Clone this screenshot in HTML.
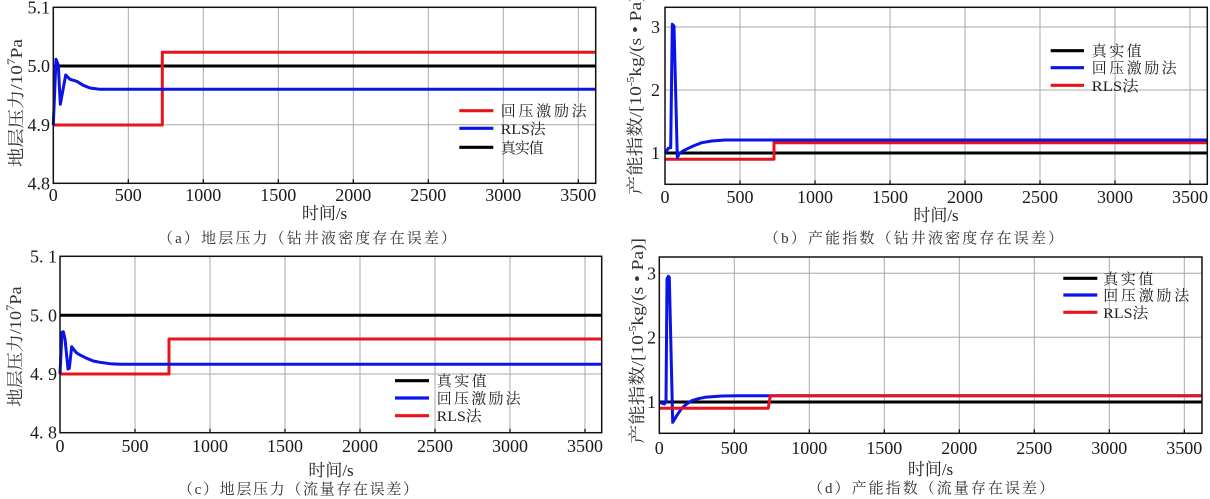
<!DOCTYPE html>
<html><head><meta charset="utf-8"><style>
html,body{margin:0;padding:0;background:#fff;}
svg{display:block;}
text{font-family:"Liberation Serif","Noto Serif CJK SC",serif;}
</style></head><body>
<svg width="1210" height="499" viewBox="0 0 1210 499" xmlns="http://www.w3.org/2000/svg">
<rect width="1210" height="499" fill="#fff"/>

<!-- ============ PANEL A ============ -->
<g stroke="#a8a8a8" stroke-width="1" fill="none">
<path d="M128.3 7.3V183.3M203.3 7.3V183.3M278.3 7.3V183.3M353.3 7.3V183.3M428.3 7.3V183.3M503.3 7.3V183.3M578.3 7.3V183.3"/>
<path d="M53.3 124.7H595.7M53.3 66H595.7"/>
</g>
<g stroke="#000" stroke-width="1.2">
<path d="M128.3 183.3v-4M203.3 183.3v-4M278.3 183.3v-4M353.3 183.3v-4M428.3 183.3v-4M503.3 183.3v-4M578.3 183.3v-4"/>
</g>
<g fill="none" stroke-width="3" stroke-linejoin="round">
<path stroke="#000" d="M53.3 66H595.7"/>
<path stroke="#e8141b" d="M53.3 125H162.3V52.3H595.7"/>
<path stroke="#0a14e6" d="M53.3 125L56 59.3L58.3 65L60.3 104.3L65.7 75L70 79.3L76.7 81.3L83.3 85.3L90 88L100 89.3H595.7"/>
</g>
<rect x="53.3" y="7.3" width="542.4" height="176" fill="none" stroke="#111" stroke-width="1.5"/>
<g font-size="18" fill="#1a1a1a" text-anchor="end">
<text x="50" y="13.5">5.1</text><text x="50" y="72">5.0</text><text x="50" y="131">4.9</text><text x="50" y="189.5">4.8</text>
</g>
<g font-size="18" fill="#1a1a1a" text-anchor="middle">
<text x="53.3" y="201">0</text><text x="128.3" y="201">500</text><text x="203.3" y="201">1000</text><text x="278.3" y="201">1500</text><text x="353.3" y="201">2000</text><text x="428.3" y="201">2500</text><text x="503.3" y="201">3000</text><text x="578.3" y="201">3500</text>
</g>
<text transform="translate(16,103) rotate(-90)" y="6" font-size="17" fill="#333" text-anchor="middle" textLength="128" lengthAdjust="spacingAndGlyphs">地层压力/10<tspan font-size="12" dy="-7">7</tspan><tspan dy="7">Pa</tspan></text>
<text x="324.5" y="219" font-size="17" fill="#222" text-anchor="middle">时间/s</text>
<text x="158" y="243" font-size="15" fill="#333" textLength="298" lengthAdjust="spacing">（a）地层压力（钻井液密度存在误差）</text>
<g stroke-width="3.2">
<path stroke="#e8141b" d="M459.3 110.7H493.3"/>
<path stroke="#0a14e6" d="M459.3 128.3H493.3"/>
<path stroke="#000" d="M459.3 147.3H493.3"/>
</g>
<g font-size="15" fill="#222">
<text x="500.7" y="116.2" textLength="86" lengthAdjust="spacing">回压激励法</text>
<text x="500.7" y="133.8" textLength="45" lengthAdjust="spacingAndGlyphs">RLS法</text>
<text x="500.7" y="152.8" textLength="43" lengthAdjust="spacing">真实值</text>
</g>

<!-- ============ PANEL B ============ -->
<g stroke="#a8a8a8" stroke-width="1" fill="none">
<path d="M740 7.3V184.3M815 7.3V184.3M890 7.3V184.3M965 7.3V184.3M1040 7.3V184.3M1115 7.3V184.3M1190 7.3V184.3"/>
<path d="M665 27H1207.3M665 90H1207.3M665 153H1207.3"/>
</g>
<g stroke="#000" stroke-width="1.2">
<path d="M740 184.3v-4M815 184.3v-4M890 184.3v-4M965 184.3v-4M1040 184.3v-4M1115 184.3v-4M1190 184.3v-4"/>
</g>
<g fill="none" stroke-width="3" stroke-linejoin="round">
<path stroke="#000" d="M665 153H1207.3"/>
<path stroke="#e8141b" d="M665 159.3H774V142.7H1207.3"/>
<path stroke="#0a14e6" d="M665 153L668.3 148.3L670.7 147.7L672.3 24.3L674 26L677.3 157.7L679 154L683.3 150.7L688.3 148.3L693.3 146L701.7 142.7L711.7 141L725 140H1207.3"/>
</g>
<rect x="665" y="7.3" width="542.3" height="177" fill="none" stroke="#111" stroke-width="1.5"/>
<g font-size="18" fill="#1a1a1a" text-anchor="end">
<text x="660" y="33">3</text><text x="660" y="96">2</text><text x="660" y="159">1</text>
</g>
<g font-size="18" fill="#1a1a1a" text-anchor="middle">
<text x="665" y="203">0</text><text x="740" y="203">500</text><text x="815" y="203">1000</text><text x="890" y="203">1500</text><text x="965" y="203">2000</text><text x="1040" y="203">2500</text><text x="1115" y="203">3000</text><text x="1190" y="203">3500</text>
</g>
<text transform="translate(635,92) rotate(-90)" y="6" font-size="17" fill="#333" text-anchor="middle" textLength="206" lengthAdjust="spacingAndGlyphs">产能指数/[10<tspan font-size="10" dy="-7">-5</tspan><tspan dy="7">kg/(s</tspan> • Pa)]</text>
<text x="936" y="221" font-size="17" fill="#222" text-anchor="middle">时间/s</text>
<text x="764" y="243" font-size="15" fill="#333" textLength="299" lengthAdjust="spacing">（b）产能指数（钻井液密度存在误差）</text>
<g stroke-width="3.2">
<path stroke="#000" d="M1050.7 50.7H1084"/>
<path stroke="#0a14e6" d="M1050.7 67.7H1084"/>
<path stroke="#e8141b" d="M1050.7 85.3H1084"/>
</g>
<g font-size="15" fill="#222">
<text x="1091.7" y="56.2" textLength="50" lengthAdjust="spacing">真实值</text>
<text x="1091.7" y="73.2" textLength="85" lengthAdjust="spacing">回压激励法</text>
<text x="1091.7" y="90.8" textLength="47" lengthAdjust="spacingAndGlyphs">RLS法</text>
</g>

<!-- ============ PANEL C ============ -->
<g stroke="#a8a8a8" stroke-width="1" fill="none">
<path d="M135 256.3V432.7M210 256.3V432.7M285 256.3V432.7M360 256.3V432.7M435 256.3V432.7M510 256.3V432.7M585 256.3V432.7"/>
<path d="M60 374H601.7M60 315.3H601.7"/>
</g>
<g stroke="#000" stroke-width="1.2">
<path d="M135 432.7v-4M210 432.7v-4M285 432.7v-4M360 432.7v-4M435 432.7v-4M510 432.7v-4M585 432.7v-4"/>
</g>
<g fill="none" stroke-width="3" stroke-linejoin="round">
<path stroke="#000" d="M60 315.3H601.7"/>
<path stroke="#e8141b" d="M60 374H169V339H601.7"/>
<path stroke="#0a14e6" d="M60 374L62 332.3L63.3 331.7L65 339L68 369L69.3 368.3L71.7 346.7L73.3 349L76.7 353L80 355L86.7 358.3L93.3 361L100 362.3L110 363.7L120 364.3H601.7"/>
</g>
<rect x="60" y="256.3" width="541.7" height="176.4" fill="none" stroke="#111" stroke-width="1.5"/>
<g font-size="18" fill="#1a1a1a" text-anchor="end">
<text x="57" y="262.3">5. 1</text><text x="57" y="321.3">5. 0</text><text x="57" y="380">4. 9</text><text x="57" y="438.7">4. 8</text>
</g>
<g font-size="18" fill="#1a1a1a" text-anchor="middle">
<text x="60" y="452">0</text><text x="135" y="452">500</text><text x="210" y="452">1000</text><text x="285" y="452">1500</text><text x="360" y="452">2000</text><text x="435" y="452">2500</text><text x="510" y="452">3000</text><text x="585" y="452">3500</text>
</g>
<text transform="translate(15,346.5) rotate(-90)" y="6" font-size="17" fill="#333" text-anchor="middle" textLength="120" lengthAdjust="spacingAndGlyphs">地层压力/10<tspan font-size="12" dy="-7">7</tspan><tspan dy="7">Pa</tspan></text>
<text x="331" y="476" font-size="17" fill="#222" text-anchor="middle">时间/s</text>
<text x="178" y="494" font-size="15" fill="#333" textLength="240" lengthAdjust="spacing">（c）地层压力（流量存在误差）</text>
<g stroke-width="3.2">
<path stroke="#000" d="M395 380.7H429"/>
<path stroke="#0a14e6" d="M395 398H429"/>
<path stroke="#e8141b" d="M395 415.7H429"/>
</g>
<g font-size="15" fill="#222">
<text x="436.7" y="386.2" textLength="50" lengthAdjust="spacing">真实值</text>
<text x="436.7" y="403.5" textLength="84" lengthAdjust="spacing">回压激励法</text>
<text x="436.7" y="421.2" textLength="45" lengthAdjust="spacingAndGlyphs">RLS法</text>
</g>

<!-- ============ PANEL D ============ -->
<g stroke="#a8a8a8" stroke-width="1" fill="none">
<path d="M734.3 257V433.3M809.3 257V433.3M884.3 257V433.3M959.3 257V433.3M1034.3 257V433.3M1109.3 257V433.3M1184.3 257V433.3"/>
<path d="M659.3 273.3H1202M659.3 337.3H1202M659.3 402H1202"/>
</g>
<g stroke="#000" stroke-width="1.2">
<path d="M734.3 433.3v-4M809.3 433.3v-4M884.3 433.3v-4M959.3 433.3v-4M1034.3 433.3v-4M1109.3 433.3v-4M1184.3 433.3v-4"/>
</g>
<g fill="none" stroke-width="3" stroke-linejoin="round">
<path stroke="#000" d="M659.3 402H1202"/>
<path stroke="#0a14e6" d="M659.3 402.3L661.3 403L664.3 404L666 402L667 279L668.3 276.3L669.3 277.3L672.7 422.3L676.7 415.7L681.7 408.3L686.7 404L691.7 400.7L698.3 398.7L705 397.3L721.7 396L738.3 395.7H1202"/>
<path stroke="#e8141b" d="M659.3 408.3H768.3L770.3 395.7H1202"/>
</g>
<rect x="659.3" y="257" width="542.7" height="176.3" fill="none" stroke="#111" stroke-width="1.5"/>
<g font-size="18" fill="#1a1a1a" text-anchor="end">
<text x="656" y="279.3">3</text><text x="656" y="343.3">2</text><text x="656" y="408">1</text>
</g>
<g font-size="18" fill="#1a1a1a" text-anchor="middle">
<text x="659.3" y="454">0</text><text x="734.3" y="454">500</text><text x="809.3" y="454">1000</text><text x="884.3" y="454">1500</text><text x="959.3" y="454">2000</text><text x="1034.3" y="454">2500</text><text x="1109.3" y="454">3000</text><text x="1184.3" y="454">3500</text>
</g>
<text transform="translate(637,341) rotate(-90)" y="6" font-size="17" fill="#333" text-anchor="middle" textLength="206" lengthAdjust="spacingAndGlyphs">产能指数/[10<tspan font-size="10" dy="-7">-5</tspan><tspan dy="7">kg/(s</tspan> • Pa)]</text>
<text x="930.5" y="475" font-size="17" fill="#222" text-anchor="middle">时间/s</text>
<text x="808" y="493" font-size="15" fill="#333" textLength="246" lengthAdjust="spacing">（d）产能指数（流量存在误差）</text>
<g stroke-width="3.2">
<path stroke="#000" d="M1063.3 278.3H1097.3"/>
<path stroke="#0a14e6" d="M1063.3 295H1097.3"/>
<path stroke="#e8141b" d="M1063.3 312.3H1097.3"/>
</g>
<g font-size="15" fill="#222">
<text x="1103.3" y="283.8" textLength="50" lengthAdjust="spacing">真实值</text>
<text x="1103.3" y="300.5" textLength="86" lengthAdjust="spacing">回压激励法</text>
<text x="1103.3" y="317.8" textLength="45" lengthAdjust="spacingAndGlyphs">RLS法</text>
</g>
</svg>
</body></html>
